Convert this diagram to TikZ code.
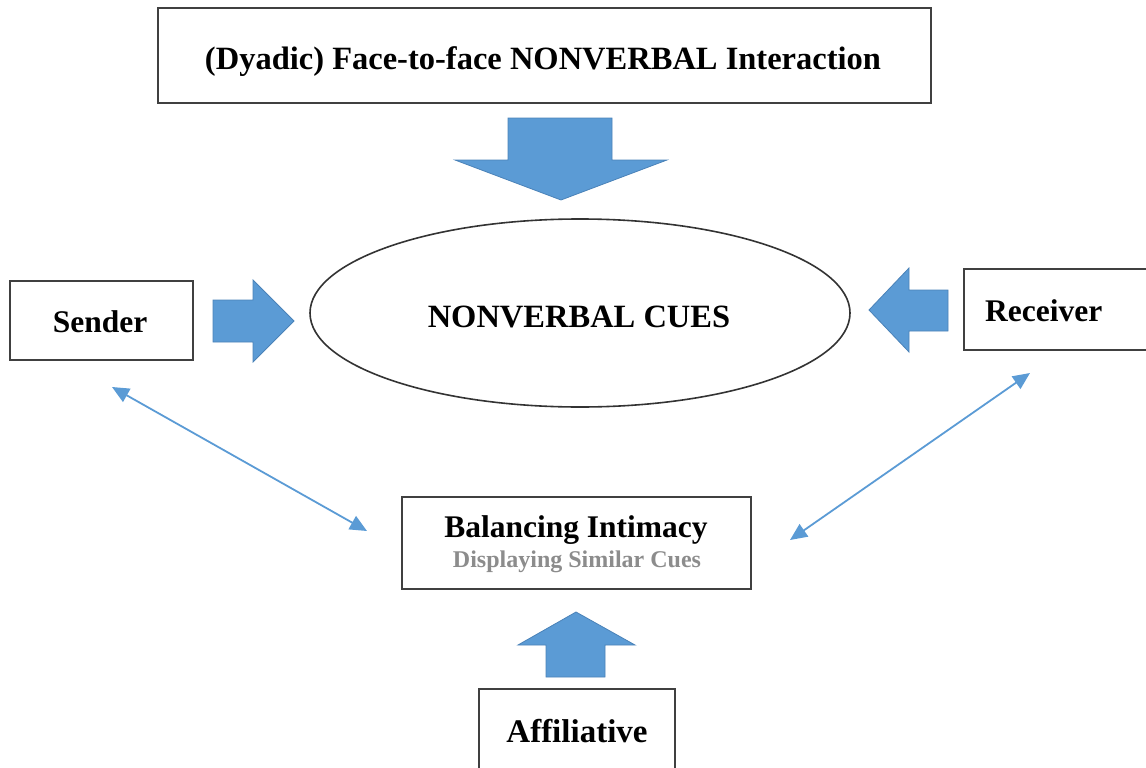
\documentclass[tikz,border=0pt]{standalone}
\usepackage{fontspec}
\setmainfont{Liberation Serif}
\usetikzlibrary{arrows.meta}
\definecolor{blockblue}{HTML}{5B9BD5}
\definecolor{blockedge}{HTML}{4A82B8}
\definecolor{linkblue}{HTML}{5B9BD5}
\begin{document}
\begin{tikzpicture}[x=1pt,y=-1pt,
  box/.style={draw=black!75, line width=1.6pt, fill=white},
  lbl/.style={font=\fontsize{31.5}{36}\selectfont\bfseries, inner sep=0pt},
  biglbl/.style={font=\fontsize{32.5}{36}\selectfont\bfseries, inner sep=0pt},
  sublbl/.style={font=\fontsize{24}{28}\selectfont\bfseries, text=black!45, inner sep=0pt},
  blockarrow/.style={fill=blockblue, draw=blockedge, line width=0.8pt},
  link/.style={draw=linkblue, line width=1.8pt, {Triangle[length=17pt,width=15pt]}-{Triangle[length=17pt,width=15pt]}}]
\useasboundingbox (0,0) rectangle (1146,768);

% framed boxes
\draw[box] (158,8) rectangle (931,103);
\node[biglbl] (title) at (543,62) {(Dyadic) Face-to-face NONVERBAL Interaction};

\draw[box] (10,281) rectangle (193,360);
\node[lbl] (sender) at (100,322) {Sender};

\draw[box] (964,269) rectangle (1160,350);
\node[lbl, anchor=west] (receiver) at (985,311) {Receiver};

\draw[box] (402,497) rectangle (751,589);
\node[lbl] (balance) at (576,530) {Balancing Intimacy};
\node[sublbl] (similar) at (577,562) {Displaying Similar Cues};

\draw[box] (479,689) rectangle (675,790);
\node[font=\fontsize{33}{36}\selectfont\bfseries, inner sep=0pt] (affil) at (577,731) {Affiliative};

% central ellipse
\draw[draw=black!80, line width=1.6pt] (580,313) ellipse [x radius=270, y radius=94];
\node[biglbl] (cues) at (579,317) {NONVERBAL CUES};

% block arrows
\draw[blockarrow] (508,118) -- (612,118) -- (612,160) -- (667,160) -- (561,200)
  -- (455,160) -- (508,160) -- cycle;
\draw[blockarrow] (213,300) -- (253,300) -- (253,280) -- (294,321) -- (253,362)
  -- (253,342) -- (213,342) -- cycle;
\draw[blockarrow] (948,290) -- (909,290) -- (909,268) -- (869,310) -- (909,352)
  -- (909,331) -- (948,331) -- cycle;
\draw[blockarrow] (546,677) -- (546,645) -- (518,645) -- (576,612) -- (635,645)
  -- (605,645) -- (605,677) -- cycle;

% two-way links
\coordinate (senderlink) at (112,387);
\coordinate (balanceleft) at (367,531);
\coordinate (receiverlink) at (1030,373);
\coordinate (balanceright) at (790,540);
\draw[link] (senderlink) -- (balanceleft);
\draw[link] (receiverlink) -- (balanceright);
\end{tikzpicture}
\end{document}
